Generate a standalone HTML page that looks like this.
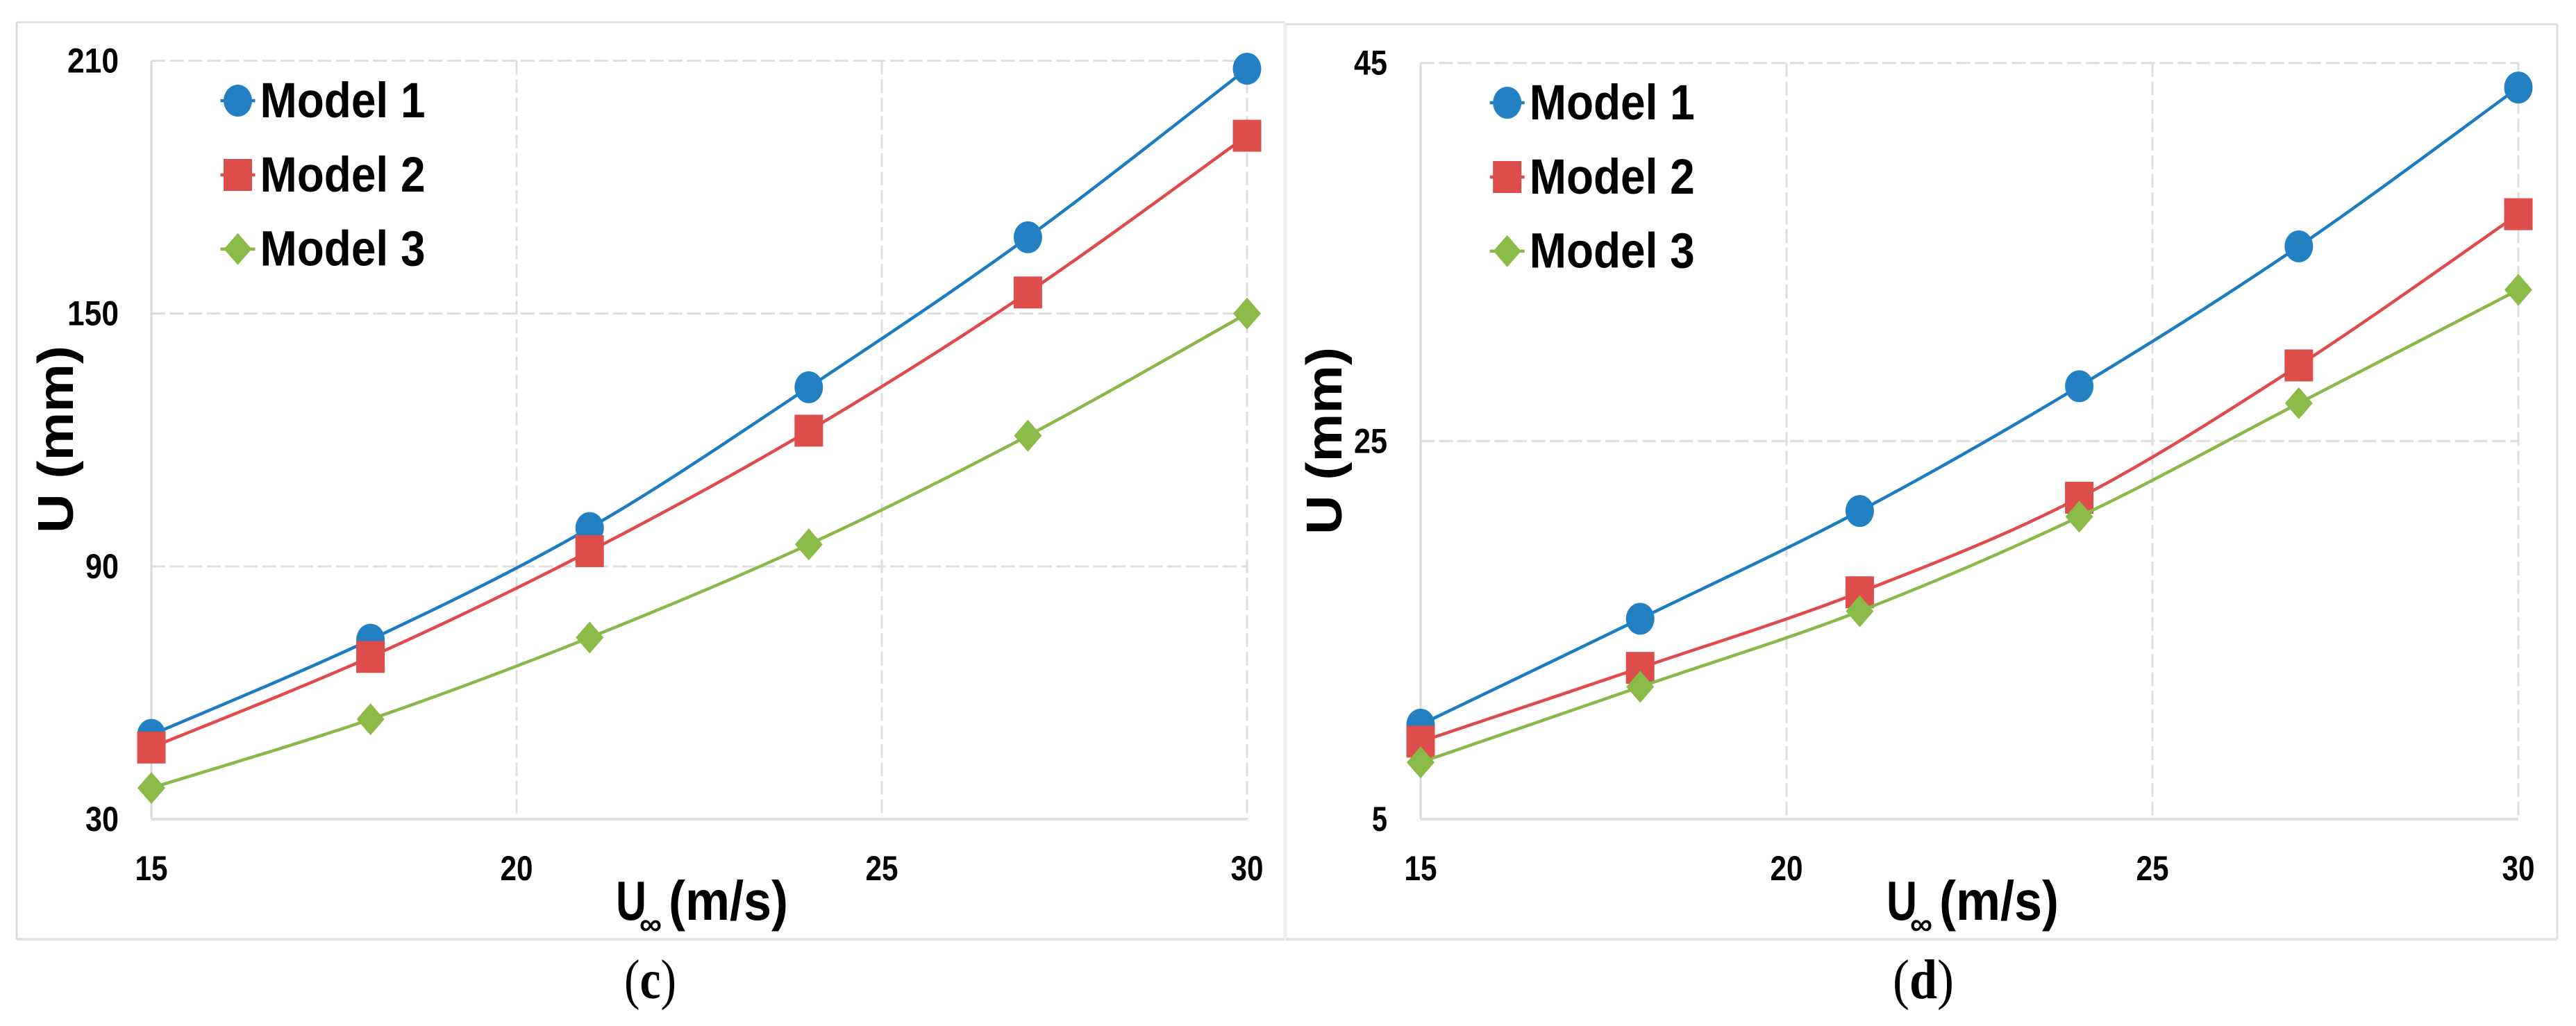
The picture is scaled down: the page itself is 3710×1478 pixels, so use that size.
<!DOCTYPE html>
<html lang="en">
<head>
<meta charset="utf-8">
<title>U versus free-stream velocity, panels c and d</title>
<style>
html,body{margin:0;padding:0;background:#fff}
svg{display:block}
text{font-family:"Liberation Sans",sans-serif;font-weight:700;fill:#000}
.cap{font-family:"Liberation Serif",serif;font-weight:400}
</style>
</head>
<body>
<svg id="figure" width="3710" height="1478" viewBox="0 0 3710 1478" xmlns="http://www.w3.org/2000/svg"></svg>
<script>
// Shared categories and ticks
const xCategories = [15, 18, 21, 24, 27, 30];
const xTickLabels = [15, 20, 25, 30];
const seriesNames = ['Model 1', 'Model 2', 'Model 3'];

// Panel (c)
const yTicksC = [30, 90, 150, 210];
const model1C = [50, 72.6, 99.1, 132.5, 168.1, 208.1];
const model2C = [47, 68.5, 93.6, 122.2, 155, 192.2];
const model3C = [37.4, 53.7, 73.1, 95.2, 121, 150];

// Panel (d)
const yTicksD = [5, 25, 45];
const model1D = [10, 15.6, 21.3, 27.9, 35.3, 43.7];
const model2D = [9.1, 13, 17, 22, 29, 37];
const model3D = [8, 12, 16, 21, 27, 33];

const NS = 'http://www.w3.org/2000/svg';
const root = document.getElementById('figure');
const colors = ['#2380c3', '#dc4d4c', '#8aba48'];
const lineColors = ['#1c7cc2', '#e04a4a', '#88b948'];
const seriesKeys = ['model-1', 'model-2', 'model-3'];

function make(tag, attrs, parent) {
  const el = document.createElementNS(NS, tag);
  for (const k in attrs) el.setAttribute(k, attrs[k]);
  parent.appendChild(el);
  return el;
}

function smoothPath(pts) {
  let d = 'M' + pts[0][0] + ' ' + pts[0][1];
  for (let i = 0; i < pts.length - 1; i++) {
    const p0 = pts[Math.max(i - 1, 0)];
    const p1 = pts[i];
    const p2 = pts[i + 1];
    const p3 = pts[Math.min(i + 2, pts.length - 1)];
    const c1x = p1[0] + (p2[0] - p0[0]) / 6;
    const c1y = p1[1] + (p2[1] - p0[1]) / 6;
    const c2x = p2[0] - (p3[0] - p1[0]) / 6;
    const c2y = p2[1] - (p3[1] - p1[1]) / 6;
    d += ' C' + c1x + ' ' + c1y + ' ' + c2x + ' ' + c2y + ' ' + p2[0] + ' ' + p2[1];
  }
  return d;
}

function drawMarker(kind, cx, cy, parent) {
  if (kind === 0) {
    return make('ellipse', {cx: cx, cy: cy, rx: 20.5, ry: 23, fill: colors[0]}, parent);
  }
  if (kind === 1) {
    return make('rect', {x: cx - 20.5, y: cy - 23, width: 41, height: 46, fill: colors[1]}, parent);
  }
  return make('polygon', {
    points: cx + ',' + (cy - 23) + ' ' + (cx + 20) + ',' + cy + ' ' + cx + ',' + (cy + 23) + ' ' + (cx - 20) + ',' + cy,
    fill: colors[2]
  }, parent);
}

function renderPanel(cfg) {
  const g = make('g', {}, root);
  
  

  const xScale = v => cfg.plotLeft + (v - 15) * cfg.xUnit;
  const yScale = v => cfg.plotBottom - (v - cfg.yMin) * (cfg.plotBottom - cfg.plotTop) / (cfg.yMax - cfg.yMin);

  // Frame
  const frame = make('g', {fill: 'none', stroke: '#dcdcdc', 'stroke-width': 3}, g);
  
  
  make('line', {x1: cfg.frame[0], y1: cfg.frame[1], x2: cfg.frame[2], y2: cfg.frame[1]}, frame);
  make('line', {x1: cfg.frame[0], y1: cfg.frame[3], x2: cfg.frame[2], y2: cfg.frame[3], 'stroke-width': 4, stroke: '#e2e2e2'}, frame);
  make('line', {x1: cfg.frame[0], y1: cfg.frame[1], x2: cfg.frame[0], y2: cfg.frame[3], stroke: cfg.leftFrameColor}, frame);
  make('line', {x1: cfg.frame[2], y1: cfg.frame[1], x2: cfg.frame[2], y2: cfg.frame[3], stroke: cfg.rightFrameColor}, frame);

  // Gridlines
  cfg.yTicks.forEach(t => {
    if (t === cfg.yMin) return;
    const gl = make('line', {
      x1: cfg.plotLeft, x2: xScale(30), y1: yScale(t), y2: yScale(t),
      stroke: '#dedede', 'stroke-width': 3, 'stroke-dasharray': '20 6.6'
    }, g);
    
    
  });
  xTickLabels.forEach(t => {
    if (t === 15) return;
    const gl = make('line', {
      x1: xScale(t), x2: xScale(t), y1: cfg.plotTop, y2: cfg.plotBottom,
      stroke: '#dedede', 'stroke-width': 3, 'stroke-dasharray': '20 6.6'
    }, g);
    
    
  });

  // Axes
  const yAxis = make('line', {x1: cfg.plotLeft, x2: cfg.plotLeft, y1: cfg.plotTop, y2: cfg.plotBottom, stroke: '#dadada', 'stroke-width': 3}, g);
  
  
  const xAxis = make('line', {x1: cfg.plotLeft, x2: xScale(30), y1: cfg.plotBottom, y2: cfg.plotBottom, stroke: '#e0e0e0', 'stroke-width': 4}, g);
  
  

  // Tick labels
  cfg.yTicks.forEach(t => {
    const s = String(t);
    const w = s.length === 1 ? 22 : (s.length === 2 ? 48 : 74);
    const lb = make('text', {
      x: cfg.yLabelEnd - w, y: yScale(t) + 17, 'font-size': 50,
      textLength: w, lengthAdjust: 'spacingAndGlyphs'
    }, g);
    
    
    lb.textContent = s;
  });
  xTickLabels.forEach(t => {
    const lb = make('text', {
      x: xScale(t) - 23.5, y: 1268, 'font-size': 50,
      textLength: 47, lengthAdjust: 'spacingAndGlyphs'
    }, g);
    
    
    lb.textContent = String(t);
  });

  // Series
  cfg.series.forEach((vals, si) => {
    const sg = make('g', {}, g);
    
    
    const pts = vals.map((v, i) => [xScale(xCategories[i]), yScale(v)]);
    const line = make('path', {d: smoothPath(pts), fill: 'none', stroke: lineColors[si], 'stroke-width': 4.5}, sg);
    
    
    pts.forEach((p, i) => {
      const m = drawMarker(si, p[0], p[1], sg);
      
      
    });
  });

  // Legend
  const legend = make('g', {}, g);
  
  
  seriesNames.forEach((name, i) => {
    const entry = make('g', {}, legend);
    
    
    const cy = cfg.legendY[i];
    make('line', {x1: cfg.legendX - 25, x2: cfg.legendX + 25, y1: cy, y2: cy, stroke: lineColors[i], 'stroke-width': 4.5}, entry);
    drawMarker(i, cfg.legendX, cy, entry);
    const t = make('text', {
      x: cfg.legendX + 32, y: cy + 24, 'font-size': 71,
      textLength: 238, lengthAdjust: 'spacingAndGlyphs'
    }, entry);
    t.textContent = name;
  });

  // Y axis title
  const yt = make('text', {
    transform: 'translate(' + cfg.yTitleX + ' ' + cfg.yTitleBottom + ') rotate(-90)',
    x: 0, y: 0, 'font-size': 72, textLength: 270, lengthAdjust: 'spacingAndGlyphs'
  }, g);
  
  
  yt.textContent = 'U (mm)';

  // X axis title
  const xt = make('g', {}, g);
  
  
  const tu = make('text', {x: cfg.xTitleX, y: 1325, 'font-size': 80, textLength: 44, lengthAdjust: 'spacingAndGlyphs'}, xt);
  tu.textContent = 'U';
  const ti = make('text', {x: cfg.xTitleX + 34, y: 1346, 'font-size': 44, textLength: 32, lengthAdjust: 'spacingAndGlyphs'}, xt);
  ti.textContent = '∞';
  const tm = make('text', {x: cfg.xTitleX + 76, y: 1325, 'font-size': 80, textLength: 172, lengthAdjust: 'spacingAndGlyphs'}, xt);
  tm.textContent = '(m/s)';

  // Caption
  const cap = make('text', {
    class: 'cap', x: cfg.capX, y: 1438, 'font-size': 80,
    textLength: cfg.capW, lengthAdjust: 'spacingAndGlyphs'
  }, g);
  
  
  cap.appendChild(document.createTextNode('('));
  const capLetter = make('tspan', {'font-weight': 700}, cap);
  capLetter.textContent = cfg.id;
  cap.appendChild(document.createTextNode(')'));
}

renderPanel({
  id: 'c',
  series: [model1C, model2C, model3C],
  yTicks: yTicksC,
  yMin: 30, yMax: 210,
  plotLeft: 218, xUnit: 105.2, plotTop: 87.5, plotBottom: 1180,
  frame: [24, 32, 1850, 1353],
  leftFrameColor: '#d9d9d9', rightFrameColor: '#efefef',
  yLabelEnd: 171,
  legendX: 342.5, legendY: [145, 252, 358.7],
  yTitleX: 105, yTitleBottom: 768,
  xTitleX: 887,
  capX: 899, capW: 75
});

renderPanel({
  id: 'd',
  series: [model1D, model2D, model3D],
  yTicks: yTicksD,
  yMin: 5, yMax: 45,
  plotLeft: 2046, xUnit: 105.4, plotTop: 90.7, plotBottom: 1180,
  frame: [1852, 35, 3683, 1353],
  leftFrameColor: '#efefef', rightFrameColor: '#dedede',
  yLabelEnd: 1998,
  legendX: 2170.7, legendY: [148, 255, 361.7],
  yTitleX: 1932, yTitleBottom: 770,
  xTitleX: 2717,
  capX: 2726, capW: 88
});
</script>
</body>
</html>
